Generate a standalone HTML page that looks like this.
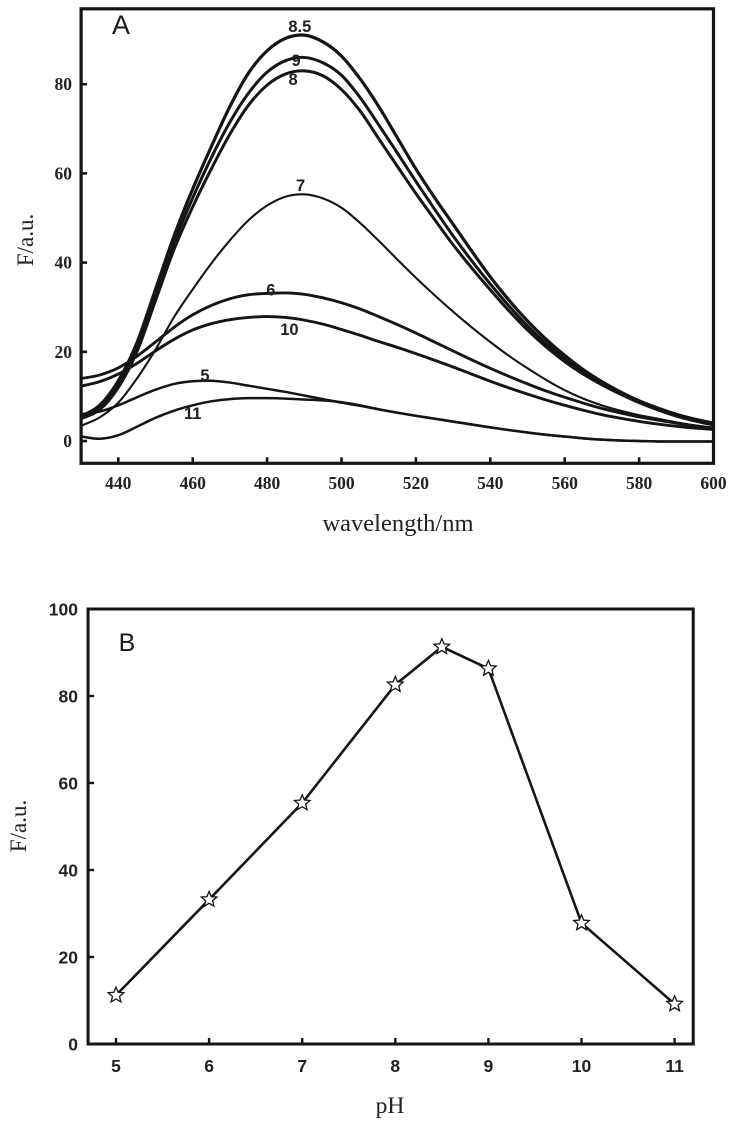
<!DOCTYPE html>
<html>
<head>
<meta charset="utf-8">
<title>Fluorescence vs wavelength and pH</title>
<style>
html,body{margin:0;padding:0;background:#fff;width:736px;height:1126px;overflow:hidden}
svg{display:block}
.serif{font-family:"Liberation Serif",serif}
.sans{font-family:"Liberation Sans",sans-serif}
</style>
</head>
<body>
<svg id="figure" xmlns="http://www.w3.org/2000/svg" width="736" height="1126" viewBox="0 0 736 1126">
  <g id="panelA"></g>
  <g id="panelB"></g>
  <text class="sans" x="121" y="34" font-size="27" text-anchor="middle" fill="#1a1a1a">A</text>
  <text class="sans" x="127" y="651" font-size="25" text-anchor="middle" fill="#1a1a1a">B</text>
  <text class="serif" x="398" y="531" font-size="24.5" text-anchor="middle" fill="#222">wavelength/nm</text>
  <text class="serif" transform="translate(33,240) rotate(-90)" font-size="23" text-anchor="middle" fill="#222">F/a.u.</text>
  <text class="serif" x="390" y="1113" font-size="23.5" text-anchor="middle" fill="#222">pH</text>
  <text class="serif" transform="translate(26,826) rotate(-90)" font-size="23" text-anchor="middle" fill="#222">F/a.u.</text>
</svg>
<script>
// Panel A data
const wavelengths = [430,435,440,445,450,455,460,465,470,475,480,485,490,495,500,505,510,515,520,525,530,535,540,545,550,555,560,565,570,575,580,585,590,595,600];
const curvePh = ["8.5","9","8","7","6","10","5","11"];
const curve85 = [5.5,8,13.5,22,34,46,56.5,66,75,82.5,87.5,90.3,91,89.5,86.3,81.2,75,68,61,54.6,48.6,42.6,36.8,31.6,26.9,22.8,19.2,16,13.3,11,9,7.4,6,4.9,4];
const curve9  = [5.5,7.5,12.5,21,33,44.5,54.5,63.5,71.5,78,82.7,85.3,86,84.8,82,77,70.9,64.6,58.2,52,46,40.4,35.2,30.3,25.8,21.9,18.5,15.5,13,10.8,8.8,7.2,5.8,4.7,3.8];
const curve8  = [5,7,12,20,31.5,43,52.5,61,68.8,75.3,79.8,82.3,83,81.9,78.8,74,67.8,61.6,55.5,49.7,44,38.8,33.9,29.2,24.9,21.1,17.8,15,12.6,10.5,8.6,7,5.6,4.5,3.6];
const curve7  = [3.4,5.3,8.6,14,20.5,27.8,34,39.8,45,49.5,52.8,54.8,55.3,54.4,52.3,48.9,44.9,40.7,36.6,32.7,29,25.5,22.2,19.1,16.3,13.7,11.4,9.5,8,6.8,5.8,5,4.2,3.5,3];
const curve6  = [14,14.8,16.4,19,22.2,25.5,28.3,30.4,31.9,32.8,33.1,33.2,32.9,32.1,31,29.6,27.9,26.1,24.2,22.2,20.2,18.2,16.3,14.5,12.8,11.2,9.8,8.5,7.3,6.3,5.4,4.7,4,3.4,2.9];
const curve10 = [12.3,13.3,15,17.4,20.2,22.8,24.9,26.3,27.2,27.7,27.9,27.7,27.1,26.2,25,23.7,22.3,21,19.6,18.1,16.6,15,13.4,11.9,10.5,9.2,8,6.9,5.9,5.1,4.4,3.8,3.3,2.9,2.6];
const curve5  = [6,6.6,8,9.8,11.5,12.8,13.4,13.5,13.1,12.4,11.7,11,10.2,9.4,8.6,7.9,7.1,6.35,5.65,5,4.35,3.7,3.05,2.45,1.9,1.4,1,0.6,0.3,0.1,0,-0.1,-0.1,-0.1,-0.1];
const curve11 = [1,0.5,1.3,3.2,5.2,6.8,8,8.9,9.4,9.6,9.6,9.5,9.3,9.1,8.7,8,7.1,6.35,5.65,5,4.35,3.7,3.05,2.45,1.9,1.4,1,0.6,0.3,0.1,0,-0.1,-0.1,-0.1,-0.1];
const curveLabelWl  = [488.8,487.8,487,489,481,486,463.3,460];
const curveLabelVal = [93,85.4,81.2,57.4,34,25.1,14.8,6.3];
const xTicksA = [440,460,480,500,520,540,560,580,600];
const yTicksA = [0,20,40,60,80];

// Panel B data
const phValues = [5,6,7,8,8.5,9,10,11];
const phIntensity = [11.2,33.2,55.4,82.6,91.3,86.3,27.8,9.2];
const xTicksB = [5,6,7,8,9,10,11];
const yTicksB = [0,20,40,60,80,100];

const NS = "http://www.w3.org/2000/svg";
const panelA = document.getElementById("panelA");
const panelB = document.getElementById("panelB");
function make(parent, tag, attrs, txt) {
  const el = document.createElementNS(NS, tag);
  for (const k in attrs) el.setAttribute(k, attrs[k]);
  if (txt !== undefined) el.textContent = txt;
  parent.appendChild(el);
  return el;
}

// Axis functions
const xA = w => 118.3 + (w - 440) * 3.72;
const yA = v => 441 - v * 4.46;
const xB = p => 116 + (p - 5) * 93.1;
const yB = v => 1044 - v * 4.35;

function smoothPath(xs, ys) {
  const n = xs.length, m = [];
  for (let i = 0; i < n; i++) {
    const a = Math.max(0, i - 1), b = Math.min(n - 1, i + 1);
    m.push((ys[b] - ys[a]) / (xs[b] - xs[a]));
  }
  let d = "M" + xs[0].toFixed(2) + " " + ys[0].toFixed(2);
  for (let i = 0; i < n - 1; i++) {
    const h = xs[i + 1] - xs[i];
    d += "C" + (xs[i] + h / 3).toFixed(2) + " " + (ys[i] + m[i] * h / 3).toFixed(2) + " " +
      (xs[i + 1] - h / 3).toFixed(2) + " " + (ys[i + 1] - m[i + 1] * h / 3).toFixed(2) + " " +
      xs[i + 1].toFixed(2) + " " + ys[i + 1].toFixed(2);
  }
  return d;
}

// Panel A: curves
const curveSeries = [curve85, curve9, curve8, curve7, curve6, curve10, curve5, curve11];
const curveWidths = [3.2, 3, 3, 2.1, 2.9, 2.9, 2.5, 2.5];
curveSeries.forEach((vals, i) => {
  const p = make(panelA, "path", {
    d: smoothPath(wavelengths.map(xA), vals.map(yA)),
    fill: "none", stroke: "#151515", "stroke-width": curveWidths[i], "stroke-linejoin": "round"
  });
  
  
  const t = make(panelA, "text", {
    x: xA(curveLabelWl[i]), y: yA(curveLabelVal[i]) + 6,
    "font-size": 16.5, "font-weight": "bold", "text-anchor": "middle", fill: "#222", class: "sans"
  }, curvePh[i]);
  
  
});

// Panel A: frame
const frameA = make(panelA, "rect", { x: xA(430), y: yA(96.9), width: xA(600) - xA(430), height: yA(-5) - yA(96.9), fill: "none", stroke: "#151515", "stroke-width": 3.2 });



// Panel A: ticks
xTicksA.forEach(w => {
  const l = make(panelA, "line", { x1: xA(w), x2: xA(w), y1: yA(-5), y2: yA(-5) - 6, stroke: "#151515", "stroke-width": 2.6 });
  
  
  const t = make(panelA, "text", { x: xA(w), y: 489, "font-size": 17.5, "font-weight": "bold", "text-anchor": "middle", fill: "#222", class: "serif" }, String(w));
  
  
});
yTicksA.forEach(v => {
  const l = make(panelA, "line", { x1: xA(430), x2: xA(430) + 6, y1: yA(v), y2: yA(v), stroke: "#151515", "stroke-width": 2.6 });
  
  
  const t = make(panelA, "text", { x: 72, y: yA(v) + 6, "font-size": 17.5, "font-weight": "bold", "text-anchor": "end", fill: "#222", class: "serif" }, String(v));
  
  
});

// Panel B: frame
const frameB = make(panelB, "rect", { x: xB(4.7), y: yB(100), width: xB(11.2) - xB(4.7), height: yB(0) - yB(100), fill: "none", stroke: "#151515", "stroke-width": 3 });



// Panel B: ticks
xTicksB.forEach(p => {
  const l = make(panelB, "line", { x1: xB(p), x2: xB(p), y1: yB(0), y2: yB(0) - 6, stroke: "#151515", "stroke-width": 2.4 });
  
  
  const t = make(panelB, "text", { x: xB(p), y: 1072, "font-size": 17.5, "font-weight": "bold", "text-anchor": "middle", fill: "#222", class: "sans" }, String(p));
  
  
});
yTicksB.forEach(v => {
  const l = make(panelB, "line", { x1: xB(4.7), x2: xB(4.7) + 6, y1: yB(v), y2: yB(v), stroke: "#151515", "stroke-width": 2.4 });
  
  
  const t = make(panelB, "text", { x: 78, y: yB(v) + 6.5, "font-size": 17.5, "font-weight": "bold", "text-anchor": "end", fill: "#222", class: "sans" }, String(v));
  
  
});

// Panel B: line and stars
const phLine = make(panelB, "polyline", {
  points: phValues.map((p, i) => xB(p) + "," + yB(phIntensity[i])).join(" "),
  fill: "none", stroke: "#151515", "stroke-width": 2.6, "stroke-linejoin": "round"
});



function starPoints(cx, cy, R, r) {
  const pts = [];
  for (let k = 0; k < 10; k++) {
    const rad = k % 2 ? r : R, ang = -Math.PI / 2 + k * Math.PI / 5;
    pts.push((cx + rad * Math.cos(ang)).toFixed(2) + "," + (cy + rad * Math.sin(ang)).toFixed(2));
  }
  return pts.join(" ");
}
phValues.forEach((p, i) => {
  const s = make(panelB, "polygon", {
    points: starPoints(xB(p), yB(phIntensity[i]), 8.2, 3.7),
    fill: "#fff", stroke: "#151515", "stroke-width": 1.3, "stroke-linejoin": "miter"
  });
  
  
});
</script>
</body>
</html>
